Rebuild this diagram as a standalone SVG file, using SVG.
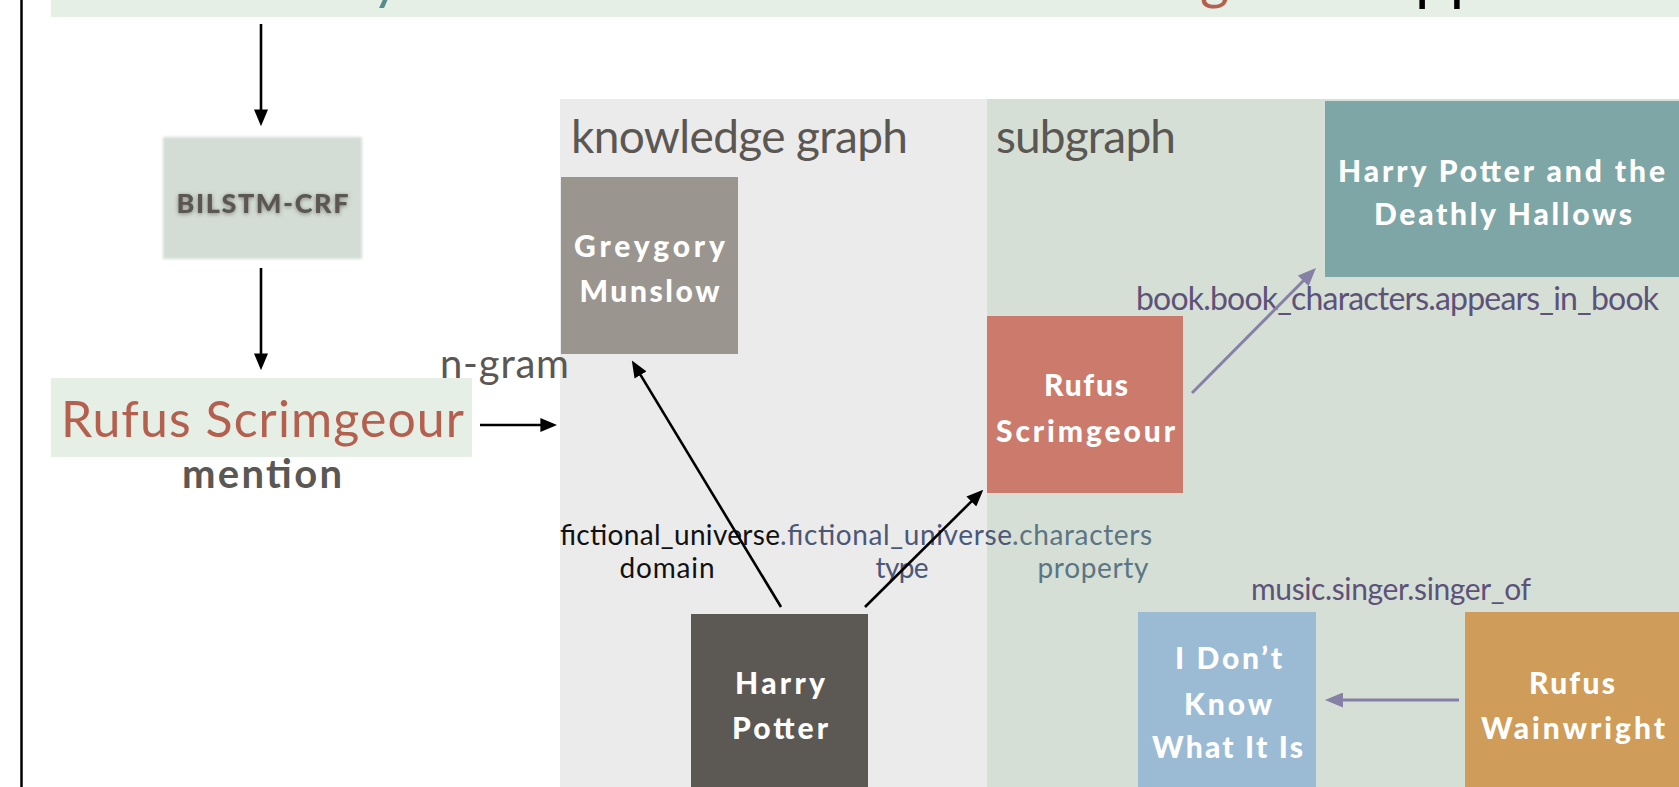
<svg xmlns="http://www.w3.org/2000/svg" width="1679" height="787" viewBox="0 0 1679 787">
  <style>
    .ff { font-family: Lato, "Open Sans", "Liberation Sans", sans-serif; }
    .gray { fill: #5b5753; }
    .node { fill: #ffffff; font-weight: 900; font-size: 30px; text-anchor: middle; }
    .lbl { font-size: 28px; }
    .purple { fill: #5e5279; }
    .slate { fill: #4c5777; }
    .teal { fill: #5c7585; }
    .blk { stroke: #000000; stroke-width: 2.6; fill: none; }
    .pur { stroke: #8780a6; stroke-width: 3; fill: none; }
  </style>
  <defs>
    <marker id="ah" viewBox="0 0 12 10" refX="9" refY="5" markerWidth="17" markerHeight="14" markerUnits="userSpaceOnUse" orient="auto">
      <path d="M0,0 L12,5 L0,10 z" fill="#000000"/>
    </marker>
    <marker id="ahp" viewBox="0 0 12 10" refX="9" refY="5" markerWidth="19" markerHeight="15" markerUnits="userSpaceOnUse" orient="auto">
      <path d="M0,0 L12,5 L0,10 z" fill="#8780a6"/>
    </marker>
    <filter id="soft" x="-10%" y="-10%" width="120%" height="120%">
      <feGaussianBlur stdDeviation="1.6"/>
    </filter>
    <filter id="shadow" x="-10%" y="-30%" width="120%" height="160%">
      <feGaussianBlur in="SourceAlpha" stdDeviation="2" result="b"/>
      <feOffset dx="0" dy="1" result="o"/>
      <feFlood flood-color="#5b5753" flood-opacity="0.7"/>
      <feComposite in2="o" operator="in" result="s"/>
      <feMerge><feMergeNode in="s"/><feMergeNode in="SourceGraphic"/></feMerge>
    </filter>
  </defs>

  <rect x="0" y="0" width="1679" height="787" fill="#ffffff"/>

  <!-- left border -->
  <line x1="21.5" y1="0" x2="21.5" y2="787" stroke="#000000" stroke-width="2.5"/>

  <!-- top banner (cut-off title) -->
  <g id="banner">
    <rect x="51" y="0" width="1628" height="17" fill="#e6efe6"/>
    <text class="ff" x="372" y="-2" font-size="56" fill="#5b8a8c">y</text>
    <text class="ff" x="1200" y="-2" font-size="56" fill="#b5604f">g</text>
    <text class="ff" x="1415" y="-2" font-size="62" fill="#000000">pp</text>
  </g>

  <!-- panels -->
  <g id="kg-panel">
    <rect x="560" y="99" width="427" height="688" fill="#ebebeb"/>
    <text class="ff gray" x="571" y="153" font-size="46" textLength="337">knowledge graph</text>
  </g>
  <g id="subgraph-panel">
    <rect x="987" y="99" width="692" height="688" fill="#d5dfd6"/>
    <text class="ff gray" x="996" y="153" font-size="46" textLength="180">subgraph</text>
  </g>

  <!-- BILSTM-CRF -->
  <g id="bilstm">
    <rect x="163" y="137" width="199" height="122" fill="#d3ddd5" filter="url(#soft)"/>
    <text class="ff" x="262.5" y="213" font-size="27" font-weight="900" fill="#5b5753" text-anchor="middle" textLength="172" filter="url(#shadow)">BILSTM-CRF</text>
  </g>

  <!-- mention -->
  <g id="mention">
    <rect x="51" y="378" width="421" height="79" fill="#e6efe6"/>
    <text class="ff" x="61" y="437" font-size="50" fill="#b5604f" textLength="403">Rufus Scrimgeour</text>
    <text class="ff gray" x="262" y="488" font-size="40" font-weight="700" text-anchor="middle" textLength="160">mention</text>
  </g>
  <text id="ngram" class="ff gray" x="440" y="378" font-size="40" textLength="129">n-gram</text>

  <!-- nodes -->
  <g id="greygory">
    <rect x="561" y="177" width="177" height="177" fill="#9a968f"/>
    <text class="ff node" x="649.5" y="257" textLength="151">Greygory</text>
    <text class="ff node" x="649.5" y="302" textLength="140">Munslow</text>
  </g>
  <g id="hpdh">
    <rect x="1325" y="101" width="354" height="176" fill="#7fa6a6"/>
    <text class="ff node" x="1501.5" y="182" textLength="327">Harry Potter and the</text>
    <text class="ff node" x="1503" y="225" textLength="258">Deathly Hallows</text>
  </g>
  <g id="rufus-s">
    <rect x="987" y="316" width="196" height="177" fill="#cb7a6c"/>
    <text class="ff node" x="1086" y="396" textLength="84">Rufus</text>
    <text class="ff node" x="1085.5" y="442" textLength="179">Scrimgeour</text>
  </g>
  <g id="harry-potter">
    <rect x="691" y="614" width="177" height="173" fill="#5c5853"/>
    <text class="ff node" x="780" y="694" textLength="90">Harry</text>
    <text class="ff node" x="780" y="739" textLength="96">Potter</text>
  </g>
  <g id="idk">
    <rect x="1138" y="612" width="178" height="175" fill="#9bbbd5"/>
    <text class="ff node" x="1228.5" y="669" textLength="107">I Don’t</text>
    <text class="ff node" x="1228" y="715" textLength="88">Know</text>
    <text class="ff node" x="1227.5" y="758" textLength="151">What It Is</text>
  </g>
  <g id="rufus-w">
    <rect x="1465" y="612" width="214" height="175" fill="#cf9c59"/>
    <text class="ff node" x="1572" y="694" textLength="86">Rufus</text>
    <text class="ff node" x="1573" y="739" textLength="184">Wainwright</text>
  </g>

  <!-- connector labels -->
  <g id="labels">
    <text class="ff lbl" x="560" y="545" fill="#111111" textLength="220">fictional_universe</text>
    <text class="ff lbl slate" x="780" y="545" textLength="232">.fictional_universe</text>
    <text class="ff lbl teal" x="1012" y="545" textLength="140">.characters</text>
    <text class="ff lbl" x="667" y="578" fill="#111111" text-anchor="middle" textLength="95">domain</text>
    <text class="ff lbl slate" x="902" y="578" text-anchor="middle" textLength="53">type</text>
    <text class="ff lbl teal" x="1093" y="578" text-anchor="middle" textLength="111">property</text>
    <text class="ff purple" x="1136" y="310" font-size="32" textLength="523">book.book_characters.appears_in_book</text>
    <text class="ff purple" x="1251" y="600" font-size="30" textLength="280">music.singer.singer_of</text>
  </g>

  <!-- connectors -->
  <g id="connectors">
    <line class="blk" x1="261" y1="24" x2="261" y2="122" marker-end="url(#ah)"/>
    <line class="blk" x1="261" y1="268" x2="261" y2="366" marker-end="url(#ah)"/>
    <line class="blk" x1="480" y1="425" x2="553" y2="425" marker-end="url(#ah)"/>
    <line class="blk" x1="781" y1="607" x2="634" y2="364.2" marker-end="url(#ah)"/>
    <line class="blk" x1="865" y1="607" x2="980.3" y2="492.6" marker-end="url(#ah)"/>
    <line class="pur" x1="1192" y1="393" x2="1312.8" y2="271.3" marker-end="url(#ahp)"/>
    <line class="pur" x1="1459" y1="700" x2="1329.5" y2="700" marker-end="url(#ahp)"/>
  </g>
</svg>
